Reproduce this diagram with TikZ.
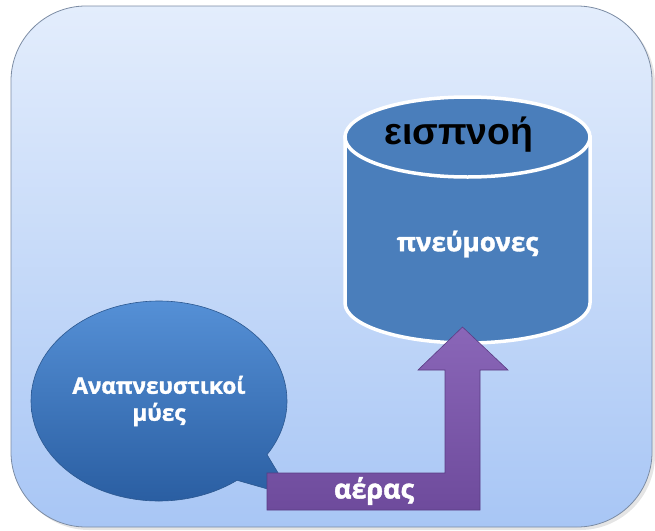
\documentclass[tikz,border=0pt]{standalone}
\usepackage{fontspec}
\setmainfont{Liberation Sans}
\newfontfamily\labelfont[BoldFeatures={FakeBold=1.5}]{Open Sans}
\usetikzlibrary{shapes.callouts,calc}
\definecolor{bgtop}{HTML}{E3EDFC}
\definecolor{bgbot}{HTML}{A8C6F5}
\definecolor{bgline}{HTML}{7C8CA4}
\definecolor{cylblue}{HTML}{4A7EBB}
\definecolor{balltop}{HTML}{5590D6}
\definecolor{ballbot}{HTML}{2A5EA2}
\definecolor{ballline}{HTML}{2C5890}
\definecolor{airtop}{HTML}{8A66B8}
\definecolor{airbot}{HTML}{6E4B9C}
\definecolor{airline}{HTML}{5A3D84}
\tikzset{
  whitelabel/.style={text=white},
  cylline/.style={draw=white,line width=3.5pt,fill=cylblue},
}
\begin{document}
\begin{tikzpicture}[x=1pt,y=-1pt]
\useasboundingbox (0,0) rectangle (655,530);
% shadow + background
\fill[black!10,rounded corners=75pt] (14,9) rectangle (655,530);
\shade[top color=bgtop,bottom color=bgbot,draw=bgline,line width=0.8pt,rounded corners=75pt] (11,6) rectangle (652,527);
% callout (respiratory muscles)
\node[ellipse callout,minimum width=256pt,minimum height=200pt,inner sep=0pt,
      callout absolute pointer={(292,496)},callout pointer arc=20,
      top color=balltop,bottom color=ballbot,draw=ballline,line width=0.6pt,
      whitelabel,font=\labelfont\bfseries\fontsize{22.5}{27}\selectfont,align=center]
      (muscles) at (159,401) {Αναπνευστικοί\\μύες};
% cylinder
\path[cylline] (345,137) -- (345,303)
   arc[start angle=180,end angle=0,x radius=122.5,y radius=40] -- (590,137) -- cycle;
\path[cylline] (467.5,137) ellipse [x radius=122.5,y radius=40];
\node[font=\bfseries\fontsize{37.5}{40}\selectfont] (inhale) at (459,135) {εισπνοή};
\node[whitelabel,font=\labelfont\bfseries\fontsize{26}{28}\selectfont] (lungs) at (467.5,244) {πνεύμονες};
% bent arrow (air)
\coordinate (airstart) at (267,491.5);
\coordinate (airtip) at (462.5,327);
\draw[top color=airtop,bottom color=airbot,draw=airline,line width=0.6pt,line join=miter]
  (airstart) ++(0,-18.5) -- ++(178,0) -- ++(0,-103) -- ++(-27,0) -- (airtip)
  -- ++(45.5,43) -- ++(-28,0) -- ++(0,140) -- ++(-213,0) -- cycle;
\node[whitelabel,font=\labelfont\bfseries\fontsize{27}{28}\selectfont] (air) at (374,491) {αέρας};
\end{tikzpicture}
\end{document}
